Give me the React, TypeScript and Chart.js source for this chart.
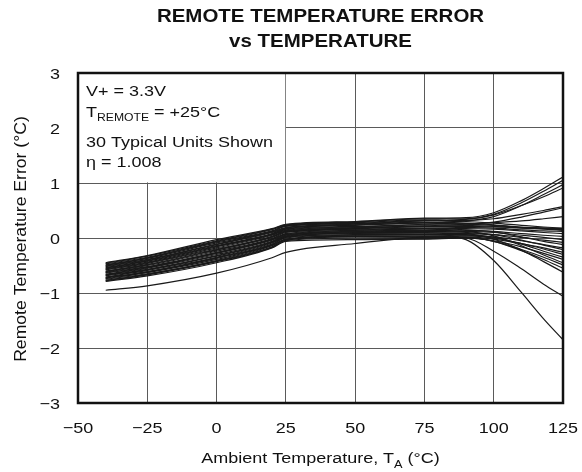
import React, { useEffect, useRef } from "react";
import { Chart, registerables } from "chart.js";

Chart.register(...registerables);

// Ambient temperature sample points (°C)
const TEMPS = [-40, -25, 0, 20, 25, 50, 75, 90, 100, 110, 118, 125];

// Remote temperature error (°C) of 30 typical units
const U01 = [-0.45, -0.32, -0.03, 0.17, 0.25, 0.3, 0.36, 0.37, 0.46, 0.68, 0.9, 1.11];
const U02 = [-0.46, -0.33, -0.05, 0.16, 0.24, 0.29, 0.35, 0.35, 0.42, 0.59, 0.75, 0.91];
const U03 = [-0.47, -0.35, -0.06, 0.15, 0.23, 0.28, 0.33, 0.3, 0.27, 0.23, 0.2, 0.18];
const U04 = [-0.49, -0.36, -0.07, 0.13, 0.22, 0.27, 0.32, 0.34, 0.43, 0.64, 0.85, 1.05];
const U05 = [-0.5, -0.37, -0.09, 0.12, 0.21, 0.26, 0.31, 0.32, 0.35, 0.43, 0.5, 0.57];
const U06 = [-0.51, -0.39, -0.11, 0.11, 0.19, 0.25, 0.29, 0.27, 0.24, 0.2, 0.18, 0.16];
const U07 = [-0.52, -0.4, -0.12, 0.1, 0.18, 0.24, 0.28, 0.31, 0.39, 0.59, 0.79, 0.97];
const U08 = [-0.54, -0.41, -0.14, 0.08, 0.17, 0.23, 0.27, 0.25, 0.23, 0.19, 0.17, 0.15];
const U09 = [-0.55, -0.42, -0.15, 0.07, 0.16, 0.21, 0.25, 0.26, 0.28, 0.31, 0.35, 0.39];
const U10 = [-0.56, -0.44, -0.16, 0.06, 0.15, 0.2, 0.24, 0.23, 0.21, 0.18, 0.16, 0.14];
const U11 = [-0.57, -0.45, -0.18, 0.05, 0.14, 0.19, 0.22, 0.25, 0.29, 0.38, 0.47, 0.55];
const U12 = [-0.58, -0.46, -0.2, 0.03, 0.13, 0.18, 0.21, 0.21, 0.2, 0.19, 0.18, 0.17];
const U13 = [-0.6, -0.48, -0.21, 0.02, 0.12, 0.17, 0.2, 0.19, 0.18, 0.15, 0.13, 0.12];
const U14 = [-0.61, -0.49, -0.22, 0.01, 0.11, 0.16, 0.18, 0.17, 0.16, 0.13, 0.1, 0.08];
const U15 = [-0.62, -0.5, -0.24, -0.01, 0.1, 0.15, 0.17, 0.15, 0.11, 0.02, -0.06, -0.12];
const U16 = [-0.63, -0.52, -0.26, -0.02, 0.08, 0.14, 0.16, 0.14, 0.12, 0.08, 0.05, 0.03];
const U17 = [-0.64, -0.53, -0.27, -0.03, 0.07, 0.13, 0.14, 0.12, 0.04, -0.14, -0.31, -0.45];
const U18 = [-0.66, -0.54, -0.28, -0.04, 0.06, 0.12, 0.13, 0.12, 0.1, 0.05, 0.01, -0.03];
const U19 = [-0.67, -0.55, -0.3, -0.06, 0.05, 0.11, 0.12, 0.1, 0.06, -0.04, -0.13, -0.21];
const U20 = [-0.68, -0.57, -0.32, -0.07, 0.04, 0.1, 0.1, 0.08, -0.02, -0.22, -0.43, -0.62];
const U21 = [-0.69, -0.58, -0.33, -0.08, 0.03, 0.09, 0.09, 0.08, 0.06, 0.01, -0.04, -0.08];
const U22 = [-0.71, -0.59, -0.35, -0.09, 0.02, 0.08, 0.07, -0.03, -0.41, -0.99, -1.47, -1.85];
const U23 = [-0.72, -0.61, -0.36, -0.11, 0.01, 0.06, 0.06, 0.06, 0.01, -0.11, -0.24, -0.35];
const U24 = [-0.73, -0.62, -0.37, -0.12, 0.0, 0.05, 0.05, 0.05, 0.02, -0.05, -0.12, -0.18];
const U25 = [-0.74, -0.63, -0.39, -0.13, -0.02, 0.04, 0.03, 0.0, -0.24, -0.56, -0.84, -1.06];
const U26 = [-0.75, -0.65, -0.41, -0.14, -0.03, 0.03, 0.02, 0.02, -0.02, -0.1, -0.18, -0.26];
const U27 = [-0.77, -0.66, -0.42, -0.16, -0.04, 0.02, 0.01, 0.01, -0.06, -0.23, -0.39, -0.55];
const U28 = [-0.78, -0.67, -0.43, -0.17, -0.05, 0.0, -0.01, 0.0, -0.06, -0.21, -0.35, -0.49];
const U29 = [-0.79, -0.69, -0.45, -0.18, -0.06, -0.03, -0.02, 0.0, -0.05, -0.16, -0.28, -0.39];
const U30 = [-0.95, -0.87, -0.64, -0.36, -0.26, -0.1, 0.02, 0.04, 0.0, -0.1, -0.2, -0.3];

const UNITS = [
  U01, U02, U03, U04, U05, U06, U07, U08, U09, U10,
  U11, U12, U13, U14, U15, U16, U17, U18, U19, U20,
  U21, U22, U23, U24, U25, U26, U27, U28, U29, U30,
];

const X_MIN = -50;
const X_MAX = 125;
const X_STEP = 25;
const Y_MIN = -3;
const Y_MAX = 3;
const Y_STEP = 1;

const TITLE_LINES = ["REMOTE TEMPERATURE ERROR", "vs TEMPERATURE"];
const NOTE_1 = "V+ = 3.3V";
const NOTE_2_MAIN = "T";
const NOTE_2_SUB = "REMOTE";
const NOTE_2_REST = " = +25°C";
const NOTE_3 = "30 Typical Units Shown";
const NOTE_4 = "η = 1.008";
const X_TITLE_MAIN = "Ambient Temperature, T";
const X_TITLE_SUB = "A";
const X_TITLE_REST = " (°C)";
const Y_TITLE = "Remote Temperature Error (°C)";

// box region (data coordinates) left clear for notes
const NOTE_BOX_X_END = 25;
const NOTE_BOX_Y_END = 1;

const FONT = '"Liberation Sans", Arial, Helvetica, sans-serif';
const SX = 1.16;

function fmt(v: number) {
  return v < 0 ? "\u2212" + Math.abs(v) : String(v);
}

function drawText(
  ctx: CanvasRenderingContext2D,
  text: string,
  x: number,
  y: number,
  font: string,
  align: "left" | "center" | "right" = "left",
  sx = SX
) {
  ctx.save();
  ctx.font = font;
  const w = ctx.measureText(text).width * sx;
  let x0 = x;
  if (align === "center") x0 = x - w / 2;
  else if (align === "right") x0 = x - w;
  ctx.translate(x0, y);
  ctx.scale(sx, 1);
  ctx.textAlign = "left";
  ctx.textBaseline = "alphabetic";
  ctx.fillStyle = "#111";
  ctx.fillText(text, 0, 0);
  ctx.restore();
  return w;
}

function measure(ctx: CanvasRenderingContext2D, text: string, font: string, sx = SX) {
  ctx.save();
  ctx.font = font;
  const w = ctx.measureText(text).width * sx;
  ctx.restore();
  return w;
}

const decorPlugin = {
  id: "decor",
  beforeDatasetsDraw(chart: any) {
    const { ctx, chartArea, scales } = chart;
    const x1 = scales.x.getPixelForValue(NOTE_BOX_X_END);
    const y1 = scales.y.getPixelForValue(NOTE_BOX_Y_END);
    ctx.save();
    ctx.fillStyle = "#fff";
    ctx.fillRect(chartArea.left, chartArea.top, x1 - chartArea.left - 0.6, y1 - chartArea.top - 0.6);
    ctx.restore();
  },
  afterDatasetsDraw(chart: any) {
    const { ctx, chartArea } = chart;
    ctx.save();
    ctx.strokeStyle = "#111";
    ctx.lineWidth = 2.5;
    ctx.strokeRect(
      chartArea.left,
      chartArea.top,
      chartArea.right - chartArea.left,
      chartArea.bottom - chartArea.top
    );
    ctx.restore();
  },
  afterDraw(chart: any) {
    const { ctx, chartArea, scales } = chart;
    const tickFont = `15.5px ${FONT}`;
    // x tick labels
    scales.x.ticks.forEach((t: any) => {
      const px = scales.x.getPixelForValue(t.value);
      drawText(ctx, fmt(t.value), px, chartArea.bottom + 29.5, tickFont, "center");
    });
    // y tick labels
    scales.y.ticks.forEach((t: any) => {
      const py = scales.y.getPixelForValue(t.value);
      drawText(ctx, fmt(t.value), chartArea.left - 18, py + 5.5, tickFont, "right");
    });

    // title
    const cx = (chartArea.left + chartArea.right) / 2;
    const titleFont = `bold 17.5px ${FONT}`;
    drawText(ctx, TITLE_LINES[0], cx, 21.7, titleFont, "center", 1.17);
    drawText(ctx, TITLE_LINES[1], cx, 46.7, titleFont, "center", 1.17);

    // notes
    const nf = `15.5px ${FONT}`;
    const sf = `10.5px ${FONT}`;
    const nx = chartArea.left + 8;
    drawText(ctx, NOTE_1, nx, 96, nf);
    let x = nx;
    x += drawText(ctx, NOTE_2_MAIN, x, 116.7, nf);
    x += drawText(ctx, NOTE_2_SUB, x, 120.7, sf);
    drawText(ctx, NOTE_2_REST, x, 116.7, nf);
    drawText(ctx, NOTE_3, nx, 147.3, nf);
    drawText(ctx, NOTE_4, nx, 167.3, nf);

    // x title
    const xf = `15.5px ${FONT}`;
    const xs = `11px ${FONT}`;
    const total =
      measure(ctx, X_TITLE_MAIN, xf) + measure(ctx, X_TITLE_SUB, xs) + measure(ctx, X_TITLE_REST, xf);
    let xx = cx - total / 2;
    xx += drawText(ctx, X_TITLE_MAIN, xx, 463, xf);
    xx += drawText(ctx, X_TITLE_SUB, xx, 468, xs);
    drawText(ctx, X_TITLE_REST, xx, 463, xf);

    // y title (rotated)
    const cy = (chartArea.top + chartArea.bottom) / 2;
    ctx.save();
    ctx.translate(25.5, cy + 1);
    ctx.rotate(-Math.PI / 2);
    drawText(ctx, Y_TITLE, 0, 0, `16px ${FONT}`, "center", 1.1);
    ctx.restore();
  },
};

export default function App() {
  const ref = useRef<HTMLCanvasElement>(null);
  useEffect(() => {
    const canvas = ref.current;
    if (!canvas) return;
    const datasets = UNITS.map((u, i) => ({
      label: `Unit ${i + 1}`,
      data: TEMPS.map((t, j) => ({ x: t, y: u[j] })),
      borderColor: "#1a1a1a",
      borderWidth: 1.2,
      pointRadius: 0,
      fill: false,
      cubicInterpolationMode: "monotone" as const,
    }));
    const chart = new Chart(canvas, {
      type: "line",
      data: { datasets },
      options: {
        animation: false,
        responsive: true,
        maintainAspectRatio: false,
        events: [],
        layout: { padding: { top: 73, right: 19, left: 0, bottom: 0 } },
        plugins: {
          legend: { display: false },
          tooltip: { enabled: false },
          title: { display: false },
        },
        scales: {
          x: {
            type: "linear",
            min: X_MIN,
            max: X_MAX,
            ticks: { stepSize: X_STEP, display: false },
            grid: { color: "#5a5a5a", lineWidth: 1, drawTicks: false },
            border: { display: false },
            afterFit: (s: any) => {
              s.height = 69;
            },
          },
          y: {
            type: "linear",
            min: Y_MIN,
            max: Y_MAX,
            ticks: { stepSize: Y_STEP, display: false },
            grid: { color: "#5a5a5a", lineWidth: 1, drawTicks: false },
            border: { display: false },
            afterFit: (s: any) => {
              s.width = 78;
            },
          },
        },
      },
      plugins: [decorPlugin],
    });
    return () => chart.destroy();
  }, []);
  return (
    <div
      style={{
        position: "fixed",
        left: 0,
        top: 0,
        width: 582,
        height: 472,
        background: "#fff",
      }}
    >
      <canvas ref={ref} />
    </div>
  );
}
